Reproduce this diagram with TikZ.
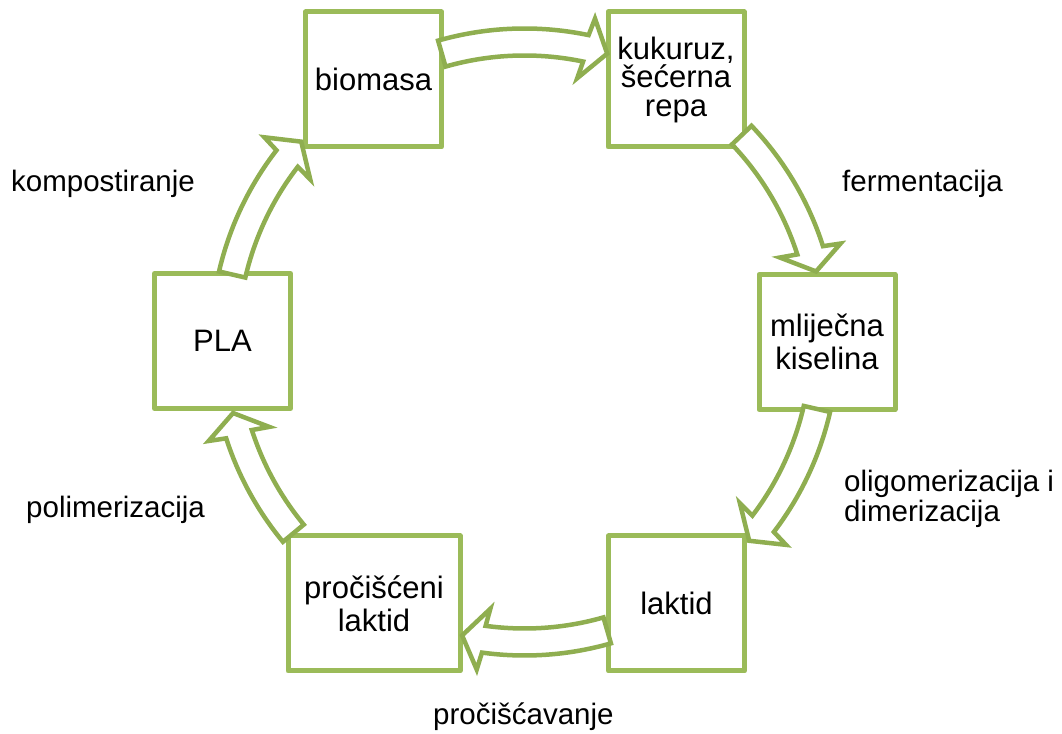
\documentclass[tikz,border=0pt]{standalone}
\usepackage{fontspec}
\setmainfont{Liberation Sans}
\definecolor{boxgreen}{HTML}{9BBB59}
\definecolor{arrgreen}{HTML}{8FAE50}
\tikzset{
  stage/.style={draw=boxgreen, line width=5pt, line join=round, fill=white,
    minimum width=136pt, minimum height=135pt, inner sep=0pt, align=center,
    font=\fontsize{31}{33}\selectfont},
  cycarrowstyle/.style={draw=arrgreen, line width=4.5pt, fill=white, line join=miter},
  steplabel/.style={anchor=base west, inner sep=0pt, align=left,
    font=\fontsize{29.5}{30}\selectfont}
}
\newcommand\cycarrow[2]{%
  \pgfmathsetmacro\hbo{#2+3.7}%
  \pgfmathsetmacro\hbi{#2+4.7}%
  \pgfmathsetmacro\hbm{#2+4.2}%
  \draw[cycarrowstyle] (#1:313.5pt) arc[start angle=#1, end angle=\hbm, radius=313.5pt]
    -- (\hbo:331pt) -- (#2:300pt) -- (\hbi:269pt) -- (\hbm:286.5pt)
    arc[start angle=\hbm, end angle=#1, radius=286.5pt] -- cycle;
}
\begin{document}
\begin{tikzpicture}[x=1pt,y=1pt]
\useasboundingbox (0,0) rectangle (1062,733);
\node[stage] (biomasa) at (373.5,653.5) {biomasa};
\node[stage, font=\fontsize{31}{28.5}\selectfont] (kukuruz) at (676,653.5) {kukuruz,\\šećerna\\repa};
\node[stage] (mlijecna) at (827,391) {mliječna\\kiselina};
\node[stage] (laktid) at (676.5,129.5) {laktid};
\node[stage, minimum width=172pt] (procisceni) at (374,129.5) {pročišćeni\\laktid};
\node[stage] (pla) at (222.5,392) {PLA};
\coordinate (C) at (524.5,391);
\begin{scope}[shift={(C)}]
  \cycarrow{106}{74}
  \cycarrow{43.6}{13.6}
  \cycarrow{-12.9}{-41.5}
  \cycarrow{-74}{-102}
  \cycarrow{-140.4}{-166.3}
  \cycarrow{167}{138.1}
\end{scope}
\node[steplabel] (l1) at (11,541.3) {kompostiranje};
\node[steplabel] (l2) at (842,541.3) {fermentacija};
\node[steplabel] (l3) at (844,211.3) {oligomerizacija i\\dimerizacija};
\node[steplabel] (l4) at (433,9) {pročišćavanje};
\node[steplabel] (l5) at (26,215) {polimerizacija};
\end{tikzpicture}
\end{document}
